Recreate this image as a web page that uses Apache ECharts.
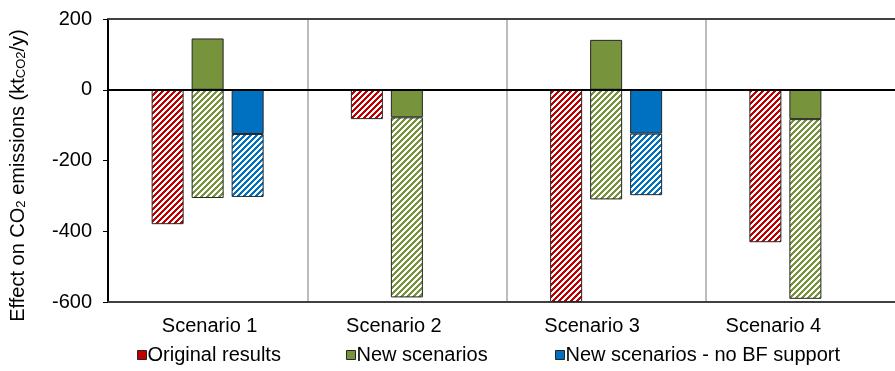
<!DOCTYPE html>
<html>
<head>
<meta charset="utf-8">
<script src="https://cdn.jsdelivr.net/npm/echarts@6/dist/echarts.min.js"></script>
<style>
html,body{margin:0;padding:0;background:#fff;overflow:hidden;}
#chart{width:905px;height:371px;}
</style>
</head>
<body>
<div id="chart"></div>
<script>
// ---- data ----
var categories = ['Scenario 1', 'Scenario 2', 'Scenario 3', 'Scenario 4'];
var originalResults = [-380, -83, -600, -431];          // hatched red
var newScenariosSolid = [145, -78, 141, -83];           // solid green
var newScenariosHatched = [-306, -509, -310, -508];     // hatched green (stacked below)
var noBFSolid = [-125, null, -124, null];               // solid blue
var noBFHatched = [-178, null, -174, null];             // hatched blue (stacked below)
var yTicks = [-600, -400, -200, 0, 200];

var RED = '#C00000', GREEN = '#77933C', BLUE = '#0070C0', EDGE = '#262626';

function hatch(color) {
  var p = 6, c = document.createElement('canvas');
  c.width = p * 2; c.height = p * 2;
  var ctx = c.getContext('2d');
  ctx.fillStyle = '#fff'; ctx.fillRect(0, 0, c.width, c.height);
  ctx.fillStyle = color;
  for (var y = 0; y < c.height; y++) for (var x = 0; x < c.width; x++) {
    var d = (x + y) % p;
    if (d < 3) ctx.fillRect(x, y, 1, 1);
  }
  return { image: c, repeat: 'repeat' };
}

var FONT = 'Liberation Sans';
var FS = 20;
var chart = echarts.init(document.getElementById('chart'), null, { renderer: 'canvas' });

var barBase = { type: 'bar', barWidth: 32, barGap: '25%' };
function bar(name, data, color, stack) {
  return Object.assign({}, barBase, {
    name: name, data: data, stack: stack,
    itemStyle: { color: color, borderColor: EDGE, borderWidth: 1 }
  });
}

var series = [
  bar('Original results', originalResults, hatch(RED), 'a'),
  bar('New scenarios', newScenariosSolid, GREEN, 'b'),
  bar('New scenarios (hatched)', newScenariosHatched, hatch(GREEN), 'b'),
  bar('New scenarios - no BF support', noBFSolid, BLUE, 'c'),
  bar('New scenarios - no BF support (hatched)', noBFHatched, hatch(BLUE), 'c')
];
series[0].markLine = {
  silent: true, symbol: ['none', 'none'], label: { show: false },
  lineStyle: { color: '#000', width: 2, type: 'solid' },
  data: [{ yAxis: 0 }]
};

function legend(name, color, left) {
  return {
    left: left, top: 345, padding: 0, icon: 'rect', itemWidth: 9, itemHeight: 9,
    data: [{ name: name, itemStyle: { color: color, borderColor: EDGE, borderWidth: 1 } }],
    textStyle: { fontFamily: FONT, fontSize: FS, color: '#000', padding: [0, 0, 0, -4] },
    selectedMode: false
  };
}

// per-label shift (label placement of the original)
var labelRich = {
  l0: { fontFamily: FONT, fontSize: FS, color: '#000', padding: [0, 0, 0, 4] },
  l1: { fontFamily: FONT, fontSize: FS, color: '#000', padding: [0, 26, 0, 0] },
  l2: { fontFamily: FONT, fontSize: FS, color: '#000', padding: [0, 28, 0, 0] },
  l3: { fontFamily: FONT, fontSize: FS, color: '#000', padding: [0, 64, 0, 0] }
};

chart.setOption({
  animation: false,
  backgroundColor: '#fff',
  grid: { left: 107, top: 19, bottom: 69, right: 0 },
  legend: [
    legend('Original results', RED, 137),
    legend('New scenarios', GREEN, 346),
    legend('New scenarios - no BF support', BLUE, 555)
  ],
  xAxis: [{
    type: 'category', data: categories, position: 'bottom',
    axisLine: { onZero: false, lineStyle: { color: '#404040', width: 2 } },
    axisTick: { show: false },
    splitLine: { show: true, lineStyle: { color: '#A6A6A6', width: 1.5 } },
    axisLabel: {
      fontFamily: FONT, fontSize: FS, color: '#000', margin: 14,
      formatter: function (v, i) { return '{l' + i + '|' + v + '}'; },
      rich: labelRich
    }
  }, {
    type: 'category', data: categories, position: 'top',
    axisLine: { onZero: false, lineStyle: { color: '#404040', width: 2 } },
    axisTick: { show: false }, axisLabel: { show: false }, splitLine: { show: false }
  }],
  yAxis: {
    type: 'value', min: yTicks[0], max: yTicks[yTicks.length - 1], interval: 200,
    axisLine: { show: true, lineStyle: { color: '#000', width: 2 } },
    axisTick: { show: true, length: 5, lineStyle: { color: '#000', width: 1 } },
    splitLine: { show: false },
    axisLabel: { fontFamily: FONT, fontSize: FS, color: '#000', margin: 16 },
    name: 'Effect on CO{s|2} emissions (kt{s|CO2}/y)',
    nameLocation: 'middle', nameGap: 80, nameRotate: 90,
    nameTextStyle: {
      fontFamily: FONT, fontSize: 20, color: '#000', padding: [0, 30, 0, 0],
      rich: { s: { fontFamily: FONT, fontSize: 13, color: '#000', verticalAlign: 'bottom', padding: [7, 0, 0, 0] } }
    }
  },
  series: series
});
</script>
</body>
</html>
